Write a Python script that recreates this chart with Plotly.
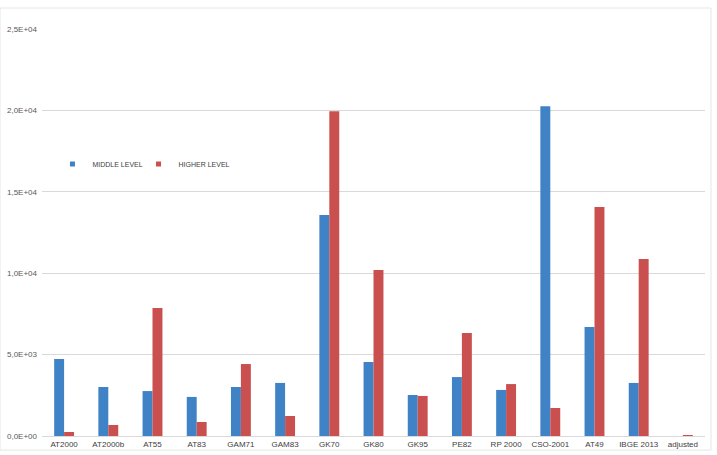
import plotly.graph_objects as go

categories = ["AT2000", "AT2000b", "AT55", "AT83", "GAM71", "GAM83", "GK70", "GK80",
              "GK95", "PE82", "RP 2000", "CSO-2001", "AT49", "IBGE 2013", "adjusted"]
middle_level = [4730, 3010, 2760, 2400, 3010, 3260, 13575, 4545,
                2520, 3620, 2830, 20250, 6700, 3260, 0]
higher_level = [245, 675, 7860, 860, 4420, 1230, 19950, 10200,
                2460, 6330, 3190, 1720, 14070, 10870, 50]
series_names = ["MIDDLE LEVEL", "HIGHER LEVEL"]
series_colors = ["#3f83c6", "#c9504e"]
tick_vals = [0, 5000, 10000, 15000, 20000, 25000]
tick_text = ["0,0E+00", "5,0E+03", "1,0E+04", "1,5E+04", "2,0E+04", "2,5E+04"]

font = "Liberation Sans, Arial, sans-serif"
fig = go.Figure()
for vals, name, col in zip([middle_level, higher_level], series_names, series_colors):
    fig.add_trace(go.Bar(x=categories, y=vals, name=name, showlegend=False,
                         marker=dict(color=col, line=dict(width=0))))
# legend entries with small square markers, one legend box per series
for name, col, lg in zip(series_names, series_colors, ["legend", "legend2"]):
    fig.add_trace(go.Scatter(x=[None], y=[None], mode="markers", name=name, legend=lg,
                             marker=dict(symbol="square", size=5, color=col)))

legend_common = dict(orientation="h", y=0.668, xanchor="left", yanchor="middle",
                     font=dict(size=7, color="#404040"), itemwidth=30,
                     bgcolor="rgba(0,0,0,0)")

fig.update_layout(
    width=717, height=455,
    margin=dict(l=42, r=12, t=29, b=19),
    paper_bgcolor="white", plot_bgcolor="white",
    barmode="group", bargap=0.55, bargroupgap=0,
    font=dict(family=font, size=8, color="#595959"),
    showlegend=True,
    legend=dict(x=0.0158, **legend_common),
    legend2=dict(x=0.1456, **legend_common),
    xaxis=dict(showgrid=False, showline=True, linecolor="#d9d9d9", linewidth=1,
               ticks="", tickfont=dict(size=8, color="#404040"), automargin=False),
    yaxis=dict(range=[0, 25000], tickvals=tick_vals, ticktext=tick_text,
               showgrid=True, gridcolor="#d9d9d9", gridwidth=1, zeroline=False,
               showline=False, ticks="", tickfont=dict(size=8, color="#595959"),
               automargin=False, ticklabelstandoff=4),
    shapes=[dict(type="rect", xref="paper", yref="paper",
                 x0=-42/663, x1=(711-42)/663, y0=-14/407, y1=(436-8)/407,
                 line=dict(color="#e6e6e6", width=1), layer="below")],
)

fig.write_html("out.html")
